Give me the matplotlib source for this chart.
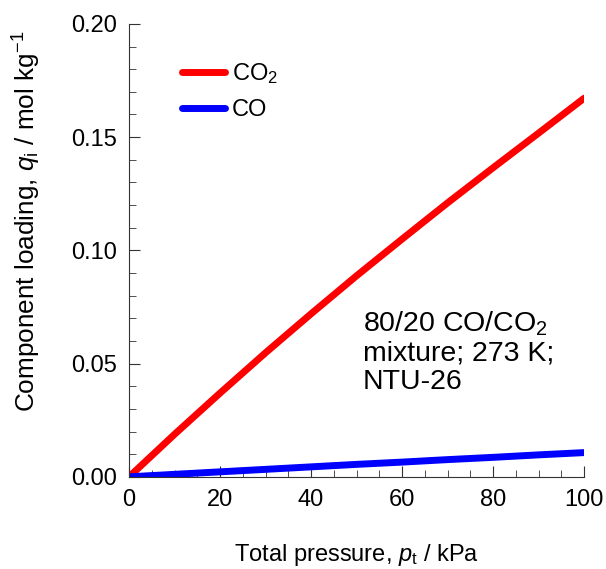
import numpy as np
import matplotlib
matplotlib.use("Agg")
import matplotlib.pyplot as plt
from matplotlib.ticker import MultipleLocator

plt.rcParams['font.family'] = ['Liberation Sans', 'DejaVu Sans']
plt.rcParams['mathtext.fontset'] = 'custom'
plt.rcParams['mathtext.rm'] = 'Liberation Sans'
plt.rcParams['mathtext.it'] = 'Liberation Sans:italic'

# values
pressure = [0, 10, 20, 30, 40, 50, 60, 70, 80, 90, 100]
q_co2 = [0, 0.0188, 0.0370, 0.0548, 0.0720, 0.0888, 0.1050, 0.1210, 0.1365, 0.1518, 0.1672]
q_co = [0, 0.0011, 0.0022, 0.0033, 0.0044, 0.0055, 0.0065, 0.0076, 0.0086, 0.0097, 0.0107]

fig = plt.figure(figsize=(6.06, 5.69), dpi=100)
ax = fig.add_axes([0.213, 0.162, 0.751, 0.796])

ax.plot(pressure, q_co2, color='red', lw=5, solid_capstyle='round', label='CO$_2$')
ax.plot(pressure, q_co, color='blue', lw=5, solid_capstyle='round', label='CO')

ax.set_xlim(0, 100)
ax.set_ylim(0, 0.20)
ax.xaxis.set_major_locator(MultipleLocator(20))
ax.xaxis.set_minor_locator(MultipleLocator(5))
ax.yaxis.set_major_locator(MultipleLocator(0.05))
ax.yaxis.set_minor_locator(MultipleLocator(0.01))
ax.yaxis.set_major_formatter(matplotlib.ticker.FormatStrFormatter('%.2f'))

for s in ['top', 'right']:
    ax.spines[s].set_visible(False)
for s in ['left', 'bottom']:
    ax.spines[s].set_color('#333333')
ax.tick_params(which='both', direction='in', colors='#333333', labelcolor='black', labelsize=17)
ax.tick_params(which='major', length=8, pad=9)
ax.tick_params(which='minor', length=5)

ax.set_xlabel('Total pressure, $p_\\mathrm{t}$ / kPa', fontsize=17, labelpad=22)
ax.set_ylabel('Component loading, $q_\\mathrm{i}$ / mol kg$^{-1}$', fontsize=18.8)
ax.yaxis.set_label_coords(-0.19, 0.563)

ax.legend(loc='upper left', bbox_to_anchor=(0.07, 0.965), frameon=False, fontsize=17,
          handlelength=1.8, handletextpad=0.3, labelspacing=0.55)

ax.text(0.513, 0.18, '80/20 CO/CO$_2$\nmixture; 273 K;\nNTU-26', transform=ax.transAxes,
        fontsize=20.5, va='bottom', ha='left', linespacing=1.12)

fig.savefig('out.png', dpi=100)
